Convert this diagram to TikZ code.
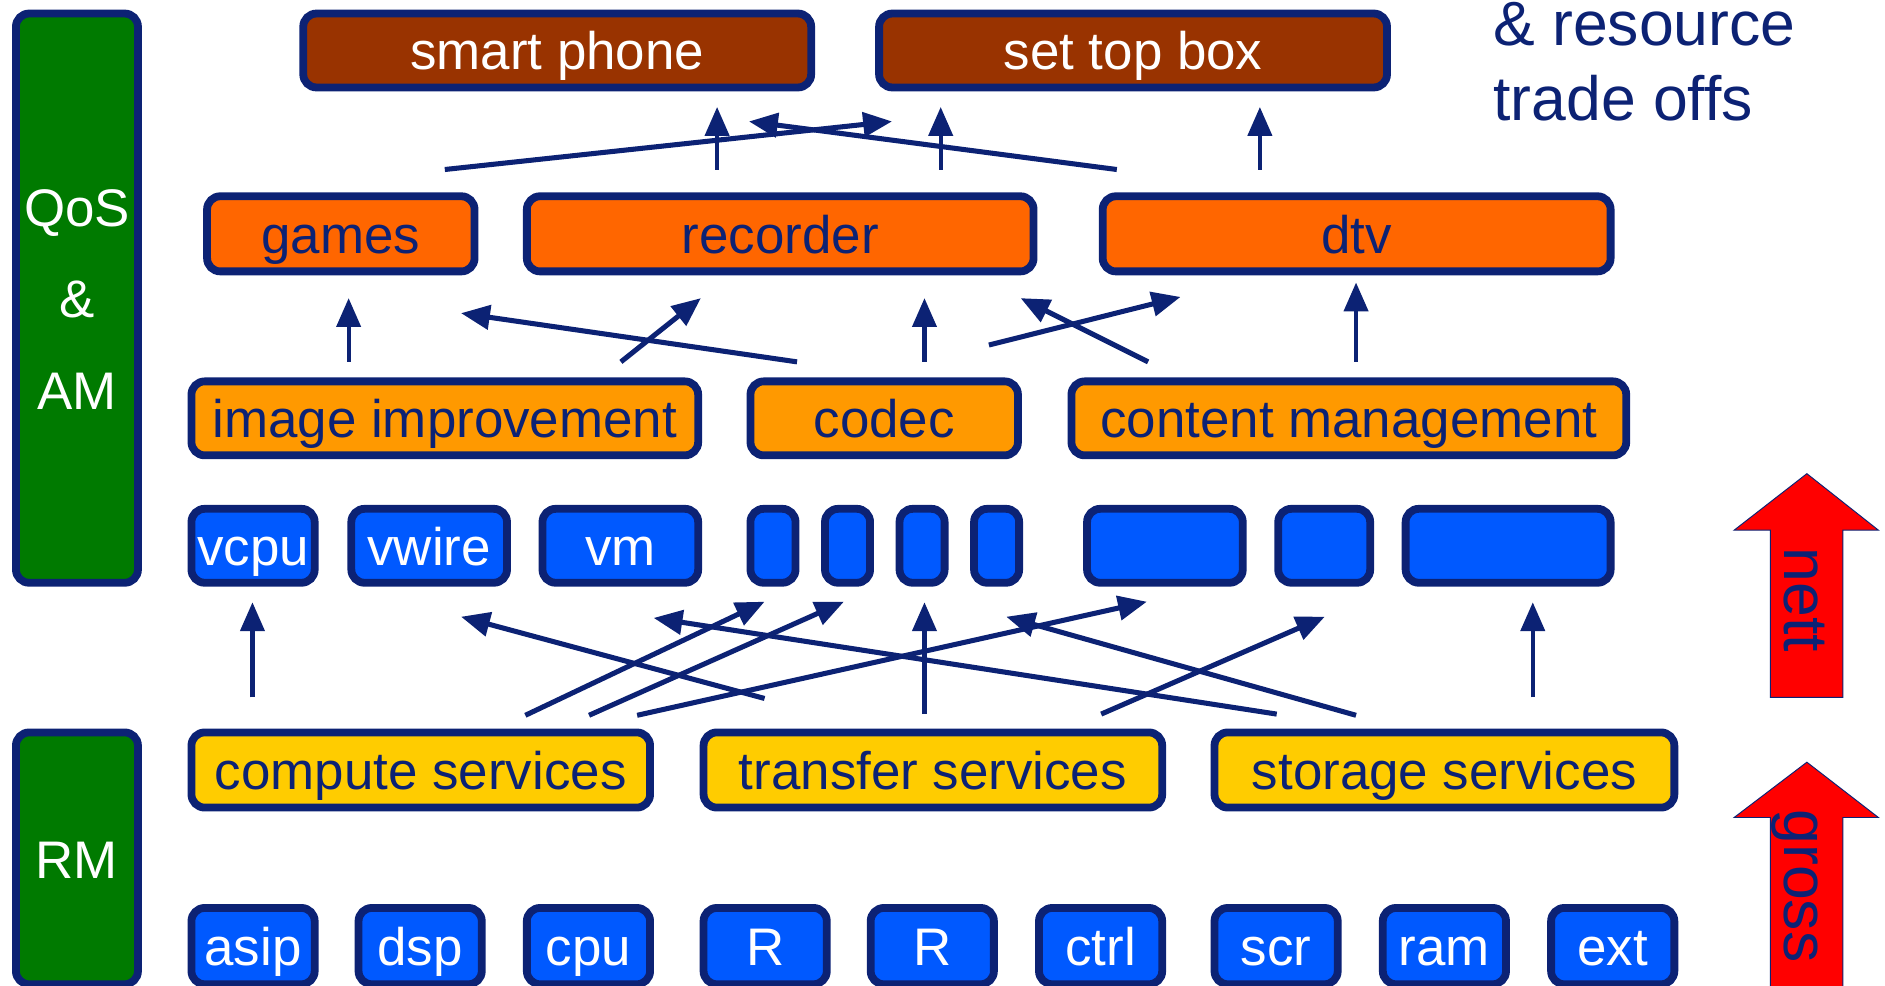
\documentclass[tikz,border=0pt]{standalone}
\usepackage{fontspec}
\setmainfont{Liberation Sans}
\usetikzlibrary{arrows.meta}

\definecolor{navy}{RGB}{12,34,116}
\definecolor{qosgreen}{RGB}{0,122,0}
\definecolor{devred}{RGB}{153,51,0}
\definecolor{appor}{RGB}{255,102,0}
\definecolor{compor}{RGB}{255,153,0}
\definecolor{resblue}{RGB}{0,89,255}
\definecolor{svcyel}{RGB}{255,204,0}
\definecolor{bigred}{RGB}{255,0,0}

\begin{document}
\begin{tikzpicture}[x=1pt,y=-1pt,
  box/.style={draw=navy, line width=6.5pt, rounded corners=11pt, inner sep=0pt,
    text height=35pt, text depth=3pt, font=\fontsize{44}{50}\selectfont},
  sz/.style 2 args={minimum width=#1pt-6.5pt, minimum height=#2pt-6.5pt},
  device/.style={box, fill=devred, text=white},
  app/.style={box, fill=appor, text=navy},
  comp/.style={box, fill=compor, text=navy},
  res/.style={box, fill=resblue, text=white},
  svc/.style={box, fill=svcyel, text=navy},
  mgr/.style={box, fill=qosgreen, text=white},
  up/.style={draw=navy, line width=3.4pt, -{Triangle[length=24pt,width=20pt]}},
  cross/.style={draw=navy, line width=4.2pt, -{Triangle[length=24pt,width=20pt]}},
  bigarrow/.style={fill=bigred, draw=navy, line width=0.8pt},
  side/.style={text=navy, font=\fontsize{52}{60}\selectfont, inner sep=0pt},
  mgrlabel/.style={text=white, font=\fontsize{44}{50}\selectfont, anchor=base, inner sep=0pt}
]
\useasboundingbox (0,0) rectangle (1568,820);

% managers on the left
\node[mgr, sz={108}{480}] (qos) at (64,248) {};
\node[mgrlabel] (qosA) at (64,188) {QoS};
\node[mgrlabel] (qosB) at (64,264) {\&};
\node[mgrlabel] (qosC) at (64,341) {AM};
\node[mgr, sz={108}{216}] (rm) at (64,714) {};
\node[mgrlabel] (rmT) at (64,731) {RM};

% devices
\node[device, sz={429}{68}] (phone) at (463.5,42) {smart phone};
\node[device, sz={429}{68}] (stb) at (942.5,42) {set top box};

% applications
\node[app, sz={229}{69}] (games) at (283.5,194.5) {games};
\node[app, sz={428}{69}] (recorder) at (649,194.5) {recorder};
\node[app, sz={429}{69}] (dtv) at (1128.5,194.5) {dtv};

% components
\node[comp, sz={428}{68}] (imgimp) at (370,348) {image improvement};
\node[comp, sz={229}{68}] (codec) at (735.5,348) {codec};
\node[comp, sz={468}{68}] (content) at (1122,348) {content management};

% virtual resources
\node[res, sz={109}{68}] (vcpu) at (210.5,454) {vcpu};
\node[res, sz={136}{68}] (vwire) at (357,454) {vwire};
\node[res, sz={136}{68}] (vm) at (516,454) {vm};
\node[res, sz={44}{68}] (v1) at (643,454) {};
\node[res, sz={44}{68}] (v2) at (705,454) {};
\node[res, sz={44}{68}] (v3) at (767,454) {};
\node[res, sz={44}{68}] (v4) at (829,454) {};
\node[res, sz={136}{68}] (v5) at (969,454) {};
\node[res, sz={83}{68}] (v6) at (1101.5,454) {};
\node[res, sz={177}{68}] (v7) at (1254.5,454) {};

% services
\node[svc, sz={388}{69}] (compute) at (350,640.5) {compute services};
\node[svc, sz={388}{69}] (transfer) at (776,640.5) {transfer services};
\node[svc, sz={389}{69}] (storage) at (1201.5,640.5) {storage services};

% physical resources
\node[res, sz={109}{70}] (asip) at (210.5,787) {asip};
\node[res, sz={109}{70}] (dsp) at (349.5,787) {dsp};
\node[res, sz={109}{70}] (cpu) at (489.5,787) {cpu};
\node[res, sz={109}{70}] (r1) at (636.5,787) {R};
\node[res, sz={109}{70}] (r2) at (775.5,787) {R};
\node[res, sz={109}{70}] (ctrl) at (915.5,787) {ctrl};
\node[res, sz={109}{70}] (scr) at (1061.5,787) {scr};
\node[res, sz={109}{70}] (ram) at (1201.5,787) {ram};
\node[res, sz={109}{70}] (ext) at (1341.5,787) {ext};

% trade-off caption
\node[side, anchor=base west] (capA) at (1242,38) {\& resource};
\node[side, anchor=base west] (capB) at (1242,100) {trade offs};

% applications to devices
\coordinate (a1s) at (596.5,141); \coordinate (a1e) at (596.5,89);
\coordinate (a2s) at (782.5,141); \coordinate (a2e) at (782.5,89);
\coordinate (a3s) at (1048,141);  \coordinate (a3e) at (1048,89);
\coordinate (a4s) at (370,141);   \coordinate (a4e) at (742,101);
\coordinate (a5s) at (929,141);   \coordinate (a5e) at (623,101);
\draw[up] (a1s) -- (a1e);
\draw[up] (a2s) -- (a2e);
\draw[up] (a3s) -- (a3e);
\draw[cross] (a4s) -- (a4e);
\draw[cross] (a5s) -- (a5e);

% components to applications
\coordinate (b1s) at (290,301);   \coordinate (b1e) at (290,248);
\coordinate (b2s) at (769,301);   \coordinate (b2e) at (769,248);
\coordinate (b3s) at (1128,301);  \coordinate (b3e) at (1128,235);
\coordinate (b4s) at (663,301);   \coordinate (b4e) at (383.5,260.5);
\coordinate (b5s) at (516.5,301); \coordinate (b5e) at (583,248);
\coordinate (b6s) at (822.6,287); \coordinate (b6e) at (982,247);
\coordinate (b7s) at (955,301);   \coordinate (b7e) at (849,248);
\draw[up] (b1s) -- (b1e);
\draw[up] (b2s) -- (b2e);
\draw[up] (b3s) -- (b3e);
\draw[cross] (b4s) -- (b4e);
\draw[cross] (b5s) -- (b5e);
\draw[cross] (b6s) -- (b6e);
\draw[cross] (b7s) -- (b7e);

% services to virtual resources
\coordinate (c1s) at (210,580);   \coordinate (c1e) at (210,501);
\coordinate (c2s) at (1275,580);  \coordinate (c2e) at (1275,501);
\coordinate (c3s) at (769,594);   \coordinate (c3e) at (769,501);
\coordinate (c4s) at (636,581);   \coordinate (c4e) at (383.5,513);
\coordinate (c5s) at (437,595);   \coordinate (c5e) at (636,500.5);
\coordinate (c6s) at (490,595);   \coordinate (c6e) at (702,500.5);
\coordinate (c7s) at (530,595);   \coordinate (c7e) at (954,500.5);
\coordinate (c8s) at (1062,594);  \coordinate (c8e) at (543.7,514);
\coordinate (c9s) at (916,594);   \coordinate (c9e) at (1102,513);
\coordinate (c10s) at (1128,595); \coordinate (c10e) at (837,513);
\draw[up] (c1s) -- (c1e);
\draw[up] (c2s) -- (c2e);
\draw[up] (c3s) -- (c3e);
\draw[cross] (c4s) -- (c4e);
\draw[cross] (c5s) -- (c5e);
\draw[cross] (c6s) -- (c6e);
\draw[cross] (c7s) -- (c7e);
\draw[cross] (c8s) -- (c8e);
\draw[cross] (c9s) -- (c9e);
\draw[cross] (c10s) -- (c10e);

% nett / gross block arrows
\draw[bigarrow] (1472.7,580) -- (1472.7,441) -- (1442.5,441) -- (1503,394)
  -- (1562.5,441) -- (1533,441) -- (1533,580) -- cycle;
\draw[bigarrow] (1472.7,830) -- (1472.7,680) -- (1442.5,680) -- (1503,634)
  -- (1562.5,680) -- (1533,680) -- (1533,830) -- cycle;
\node[side, rotate=-90, anchor=base] (nett) at (1484,499) {nett};
\node[side, rotate=-90, anchor=base] (gross) at (1484,737) {gross};
\end{tikzpicture}
\end{document}
